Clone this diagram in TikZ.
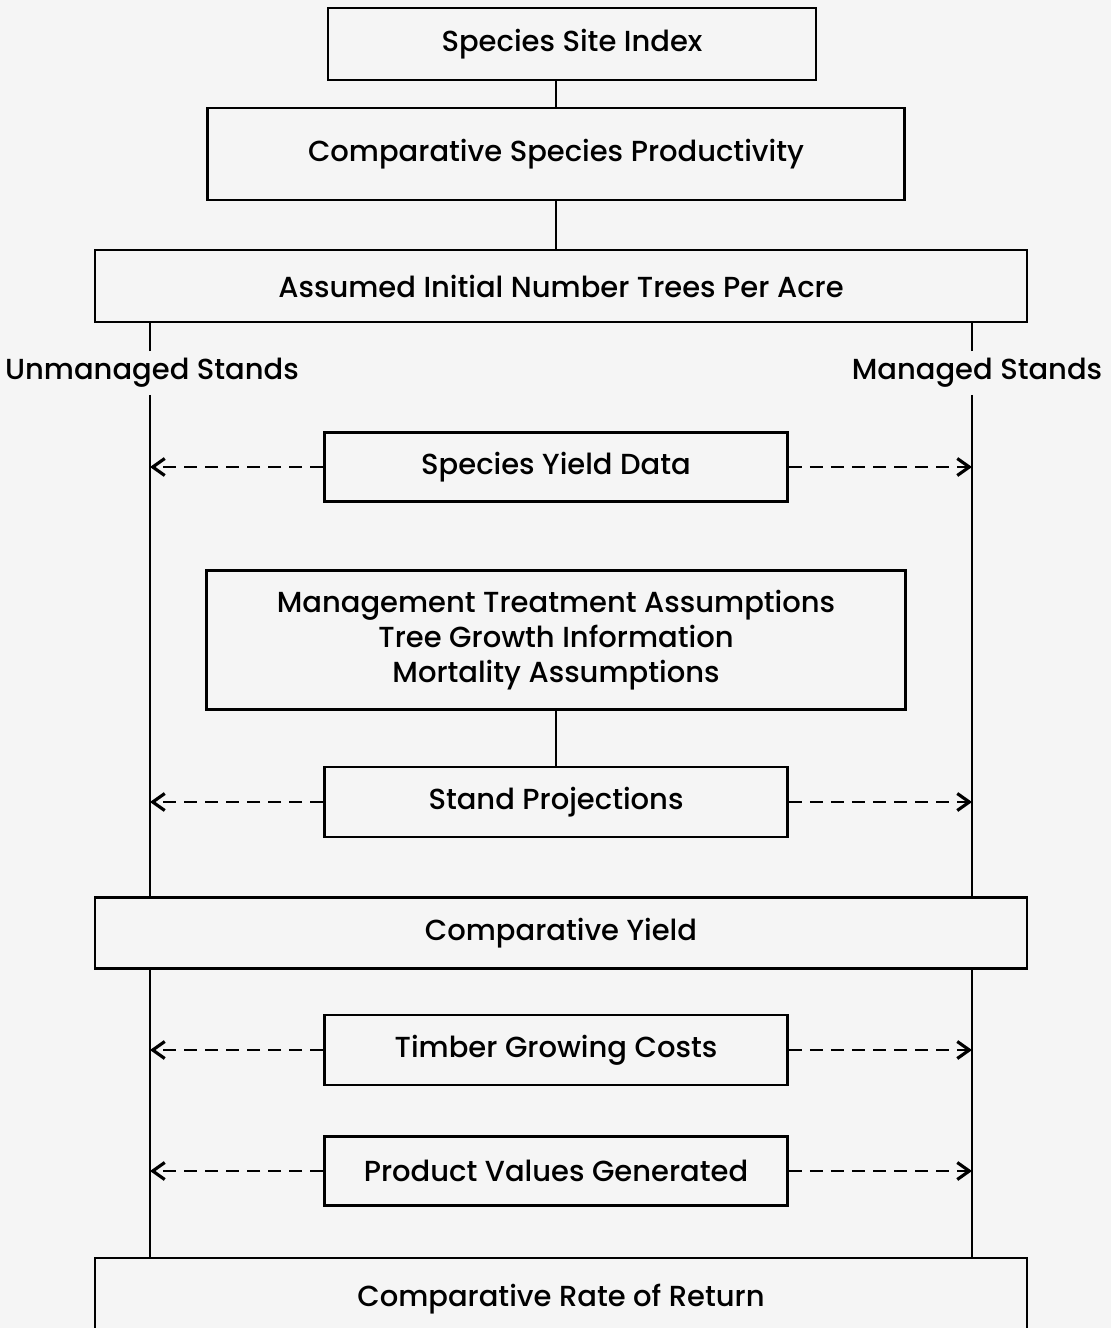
\documentclass[tikz,border=0pt]{standalone}
\usepackage{fontspec}
\setmainfont{Poppins}[UprightFont=* Medium]
\usetikzlibrary{arrows.meta}

\begin{document}
\begin{tikzpicture}[x=0.02cm, y=-0.02cm, line width=1.4pt,
    stepbox/.style={draw=black, inner sep=0pt, align=center, font=\fontsize{16.5}{20}\selectfont},
    dasharrow/.style={dash pattern=on 7.5pt off 4.5pt, -{Straight Barb[length=2.4mm, width=3.4mm, line width=1.8pt]}}]
    \useasboundingbox (0,0) rectangle (1111,1328);
    \fill[white!96!black] (0,0) rectangle (1111,1328);
    \node[stepbox, minimum width=9.76cm, minimum height=1.44cm] at (572,44) (P1) {Species Site Index};
    \node[stepbox, minimum width=13.94cm, minimum height=1.84cm] at (556,154) (P2) {Comparative Species Productivity};
    \node[stepbox, minimum width=18.64cm, minimum height=1.44cm] at (561,286) (P3) {Assumed Initial Number Trees Per Acre};
    \node[font=\fontsize{16.5}{20}\selectfont] at (152,373) (U) {Unmanaged Stands};
    \node[font=\fontsize{16.5}{20}\selectfont] at (977,373) (M) {Managed Stands};
    \node[stepbox, minimum width=9.26cm, minimum height=1.38cm] at (556,467) (P4) {Species Yield Data};
    \node[stepbox, minimum width=13.98cm, minimum height=2.78cm] at (556,640) (P5) {Management Treatment Assumptions\\Tree Growth Information\\Mortality Assumptions};
    \node[stepbox, minimum width=9.26cm, minimum height=1.40cm] at (556,802) (P6) {Stand Projections};
    \node[stepbox, minimum width=18.64cm, minimum height=1.42cm] at (561,933) (P7) {Comparative Yield};
    \node[stepbox, minimum width=9.26cm, minimum height=1.40cm] at (556,1050) (P8) {Timber Growing Costs};
    \node[stepbox, minimum width=9.26cm, minimum height=1.38cm] at (556,1171) (P9) {Product Values Generated};
    \node[stepbox, minimum width=18.64cm, minimum height=1.64cm] at (561,1299) (P10) {Comparative Rate of Return};
    % center line
    \draw (P1.south -| P2) -- (P2.north);
    \draw (P2.south) -- (P3.north -| P2);
    \draw (P5.south) -- (P6.north);
    % unmanaged side
    \draw (U.north) ++(-2,0) coordinate (Ut) -- (Ut |- P3.south);
    \draw (U.south) ++(-2,0) coordinate (Ub) -- (Ub |- P7.north);
    \draw (Ub |- P7.south) -- (Ub |- P10.north);
    % managed side
    \draw (M.north) ++(-5,0) coordinate (Mt) -- (Mt |- P3.south);
    \draw (M.south) ++(-5,0) coordinate (Mb) -- (Mb |- P7.north);
    \draw (Mb |- P7.south) -- (Mb |- P10.north);
    % dashed arrows
    \foreach \p in {P4,P6,P8,P9} {
        \draw[dasharrow] (\p.west) -- (\p.west -| Ub);
        \draw[dasharrow] (\p.east) -- (\p.east -| Mb);
    }
\end{tikzpicture}
\end{document}
